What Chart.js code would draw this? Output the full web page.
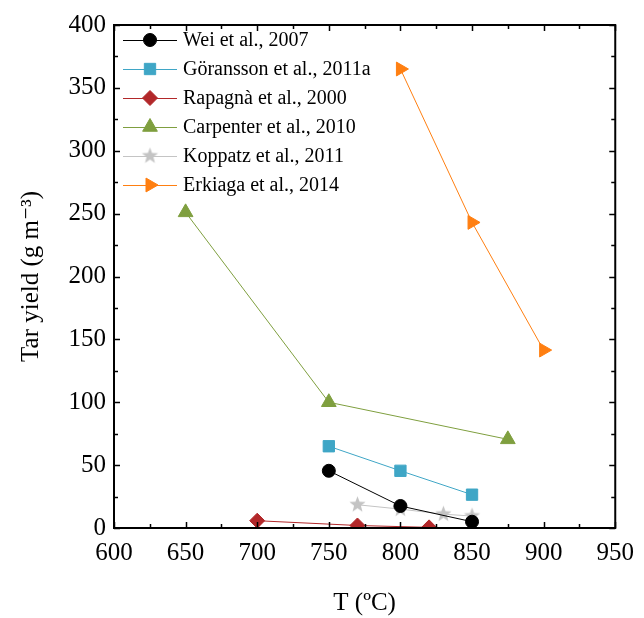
<!DOCTYPE html>
<html>
<head>
<meta charset="utf-8">
<script src="https://cdn.jsdelivr.net/npm/chart.js@4"></script>
<style>
  html, body { margin: 0; padding: 0; background: #fff; }
  #wrap { width: 644px; height: 618px; }
</style>
</head>
<body>
<div id="wrap"><canvas id="myChart" width="644" height="618"></canvas></div>
<script>
// data
var seriesNames = ['Wei et al., 2007', 'Göransson et al., 2011a', 'Rapagnà et al., 2000',
                   'Carpenter et al., 2010', 'Koppatz et al., 2011', 'Erkiaga et al., 2014'];

var weiT = [750, 800, 850];
var weiTar = [45.5, 17.5, 5];

var goranssonT = [750, 800, 850];
var goranssonTar = [65, 45.5, 26.5];

var rapagnaT = [700, 770, 820];
var rapagnaTar = [5.8, 2, 0.5];

var carpenterT = [650, 750, 875];
var carpenterTar = [251, 100, 70.5];

var koppatzT = [770, 800, 830, 850];
var koppatzTar = [18.5, 15, 11, 9.5];

var erkiagaT = [800, 850, 900];
var erkiagaTar = [365, 243, 141.5];

var xTicks = [600, 650, 700, 750, 800, 850, 900, 950];
var yTicks = [0, 50, 100, 150, 200, 250, 300, 350, 400];

var colors = ['#000000', '#3fa6c6', '#b2282a', '#7f9f3f', '#c4c4c4', '#ff7f11'];

// filled five point star, chart.js 'star' is only an asterisk
function makeStar(color, r) {
    var c = document.createElement('canvas');
    var s = Math.ceil(r * 2 + 2);
    c.width = s; c.height = s;
    var g = c.getContext('2d');
    g.fillStyle = color;
    g.beginPath();
    for (var i = 0; i < 10; i++) {
        var rr = i % 2 === 0 ? r : r * 0.42;
        var a = -Math.PI / 2 + i * Math.PI / 5;
        var px = s / 2 + Math.cos(a) * rr, py = s / 2 + Math.sin(a) * rr;
        if (i === 0) g.moveTo(px, py); else g.lineTo(px, py);
    }
    g.closePath();
    g.fill();
    return c;
}
var starImg = makeStar(colors[4], 8.5);

function pts(xs, ys) {
    return xs.map(function (x, i) { return { x: x, y: ys[i] }; });
}

var marks = [
    { style: 'circle', radius: 6.5, rotation: 0 },
    { style: 'rect', radius: 8, rotation: 0 },
    { style: 'rectRot', radius: 7.5, rotation: 0 },
    { style: 'triangle', radius: 8.5, rotation: 0 },
    { style: starImg, radius: 8, rotation: 0 },
    { style: 'triangle', radius: 8, rotation: 90 }
];

var allData = [
    pts(weiT, weiTar), pts(goranssonT, goranssonTar), pts(rapagnaT, rapagnaTar),
    pts(carpenterT, carpenterTar), pts(koppatzT, koppatzTar), pts(erkiagaT, erkiagaTar)
];

var datasets = allData.map(function (d, i) {
    return {
        label: seriesNames[i],
        data: d,
        showLine: true,
        borderColor: colors[i],
        backgroundColor: colors[i],
        borderWidth: 1,
        pointStyle: marks[i].style,
        pointRadius: marks[i].radius,
        pointRotation: marks[i].rotation,
        pointBorderWidth: 1,
        pointBorderColor: colors[i],
        pointBackgroundColor: colors[i]
    };
});

var serif = "'Liberation Serif', 'DejaVu Serif', serif";

// frame with inward ticks on all four sides
var frame = {
    id: 'frame',
    afterDraw: function (chart) {
        var ctx = chart.ctx, a = chart.chartArea;
        var xs = chart.scales.x, ys = chart.scales.y;
        ctx.save();
        ctx.strokeStyle = '#000';
        ctx.lineWidth = 1.5;
        for (var v = 600; v <= 950; v += 25) {
            var px = Math.round(xs.getPixelForValue(v)) + 0.5;
            var len = v % 50 === 0 ? 6 : 4;
            ctx.beginPath();
            ctx.moveTo(px, a.bottom); ctx.lineTo(px, a.bottom - len);
            ctx.moveTo(px, a.top); ctx.lineTo(px, a.top + len);
            ctx.stroke();
        }
        for (var w = 0; w <= 400; w += 25) {
            var py = Math.round(ys.getPixelForValue(w)) + 0.5;
            var l2 = w % 50 === 0 ? 6 : 4;
            ctx.beginPath();
            ctx.moveTo(a.left, py); ctx.lineTo(a.left + l2, py);
            ctx.moveTo(a.right, py); ctx.lineTo(a.right - l2, py);
            ctx.stroke();
        }
        ctx.lineWidth = 2;
        ctx.strokeRect(a.left, a.top, a.right - a.left, a.bottom - a.top);
        ctx.restore();
    }
};

// legend drawn as line + marker like the original
var lineLegend = {
    id: 'lineLegend',
    afterDatasetsDraw: function (chart) {
        var ctx = chart.ctx;
        ctx.save();
        ctx.font = '20px ' + serif;
        ctx.textBaseline = 'middle';
        for (var i = 0; i < seriesNames.length; i++) {
            var y = 40 + i * 29;
            ctx.strokeStyle = colors[i];
            ctx.fillStyle = colors[i];
            ctx.lineWidth = 1;
            ctx.beginPath();
            ctx.moveTo(123, y + 0.5); ctx.lineTo(177, y + 0.5);
            ctx.stroke();
            Chart.helpers.drawPoint(ctx, {
                pointStyle: marks[i].style,
                radius: marks[i].radius,
                rotation: marks[i].rotation,
                borderWidth: 1
            }, 150, y);
            ctx.fillStyle = '#000';
            ctx.fillText(seriesNames[i], 183, y + 1);
        }
        ctx.restore();
    }
};

const ctx = document.getElementById('myChart').getContext('2d');

const myChart = new Chart(ctx, {
    type: 'scatter',
    data: { datasets: datasets },
    options: {
        responsive: false,
        animation: false,
        events: [],
        layout: { padding: { top: 25, right: 25, left: 0, bottom: 0 } },
        plugins: {
            legend: { display: false },
            tooltip: { enabled: false }
        },
        scales: {
            x: {
                type: 'linear',
                min: 600, max: 950,
                afterBuildTicks: function (s) { s.ticks = xTicks.map(function (v) { return { value: v }; }); },
                afterFit: function (s) { s.height = 90; },
                grid: { display: false, drawTicks: false },
                border: { display: false },
                ticks: { color: '#000', padding: 10, font: { family: serif, size: 25 } },
                title: {
                    display: true, text: 'T (ºC)', color: '#000',
                    font: { family: serif, size: 25 }, padding: { top: 24, bottom: 0 }
                }
            },
            y: {
                type: 'linear',
                min: 0, max: 400,
                afterBuildTicks: function (s) { s.ticks = yTicks.map(function (v) { return { value: v }; }); },
                afterFit: function (s) { s.width = 114; },
                grid: { display: false, drawTicks: false },
                border: { display: false },
                ticks: { color: '#000', padding: 8, font: { family: serif, size: 25 } },
                title: {
                    display: true, text: 'Tar yield (g m⁻³)', color: '#000',
                    font: { family: serif, size: 25 }, padding: { top: 16, bottom: 0 }
                }
            }
        }
    },
    plugins: [frame, lineLegend]
});
</script>
</body>
</html>
